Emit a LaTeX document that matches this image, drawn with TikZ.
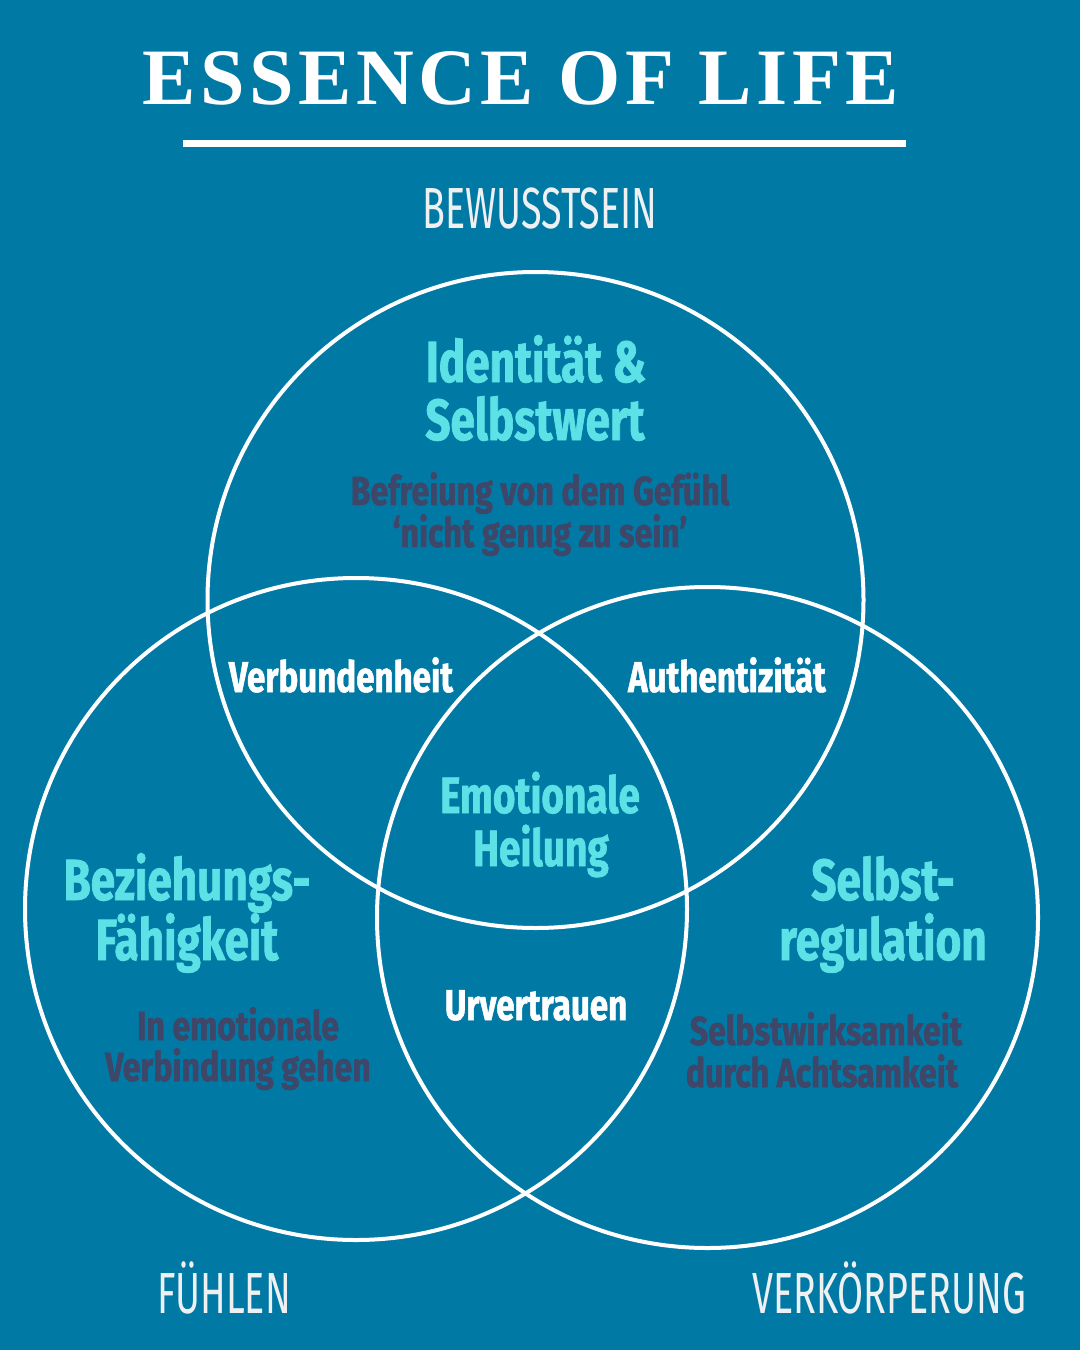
\documentclass[tikz,border=0pt]{standalone}
\usepackage{fontspec}
\newfontfamily\titlefont[LetterSpace=5.6]{Liberation Serif}
\newfontfamily\bcond[FakeStretch=0.76,FakeBold=1.2]{Fira Sans}
\newfontfamily\wcond[FakeStretch=0.77,FakeBold=1.2]{Fira Sans}
\newfontfamily\dcond[FakeStretch=0.79,FakeBold=1.2]{Fira Sans}
\newfontfamily\rcond[FakeStretch=0.65]{Fira Sans}
\definecolor{bgblue}{HTML}{0079A4}
\definecolor{cyantext}{HTML}{5CE1E6}
\definecolor{darktext}{HTML}{3F4667}
\definecolor{graytext}{HTML}{EEF0F2}
\tikzset{
  ring/.style={draw=white, line width=4bp},
  lbl/.style={inner sep=0pt, anchor=base},
  heading/.style={lbl, text=cyantext, font=\bcond\bfseries\fontsize{58bp}{70bp}\selectfont},
  midhead/.style={lbl, text=cyantext, font=\bcond\bfseries\fontsize{51bp}{62bp}\selectfont},
  subtext/.style={lbl, text=darktext, font=\dcond\bfseries\fontsize{40.6bp}{48bp}\selectfont},
  overlap/.style={lbl, text=white, font=\wcond\bfseries\fontsize{43bp}{52bp}\selectfont},
  corner/.style={lbl, text=graytext, font=\rcond\fontsize{58bp}{70bp}\selectfont},
}
\begin{document}
\begin{tikzpicture}[x=1bp, y=-1bp]
\fill[bgblue] (0,0) rectangle (1080,1350);
\useasboundingbox (0,0) rectangle (1080,1350);

% title
\node[lbl, text=white, font=\titlefont\bfseries\fontsize{80bp}{96bp}\selectfont] (title) at (521,105) {ESSENCE OF LIFE};
\coordinate (ruleL) at (183,144);
\coordinate (ruleR) at (906,144);
\draw[white, line width=7bp] (ruleL) -- (ruleR);

% circles
\draw[ring] (535.5,600) circle[radius=328];
\draw[ring] (356,909) circle[radius=331];
\draw[ring] (707.5,917.5) circle[radius=330.5];

% corner labels
\node[corner] (bew) at (540,229) {BEWUSSTSEIN};
\node[corner] (fuehlen) at (224,1313) {FÜHLEN};
\node[corner] (verk) at (889,1313) {VERKÖRPERUNG};

% top circle
\node[heading] (id1) at (536,382) {Identität \&};
\node[heading] (id2) at (535,440) {Selbstwert};
\node[subtext] (bf1) at (540,505) {Befreiung von dem Gefühl};
\node[subtext] (bf2) at (540,547) {‘nicht genug zu sein’};

% overlaps
\node[overlap] (verb) at (341,692) {Verbundenheit};
\node[overlap] (auth) at (727,692) {Authentizität};
\node[overlap] (urv) at (536,1020) {Urvertrauen};
\node[midhead] (emo1) at (540,813) {Emotionale};
\node[midhead] (emo2) at (541,866) {Heilung};

% left circle
\node[heading] (bz1) at (187,900) {Beziehungs-};
\node[heading] (bz2) at (187,960) {Fähigkeit};
\node[subtext] (ie1) at (238,1040) {In emotionale};
\node[subtext] (ie2) at (238,1081) {Verbindung gehen};

% right circle
\node[heading] (sr1) at (883,900) {Selbst-};
\node[heading] (sr2) at (883,960) {regulation};
\node[subtext] (sw1) at (826,1045) {Selbstwirksamkeit};
\node[subtext] (sw2) at (822,1087) {durch Achtsamkeit};
\end{tikzpicture}
\end{document}
